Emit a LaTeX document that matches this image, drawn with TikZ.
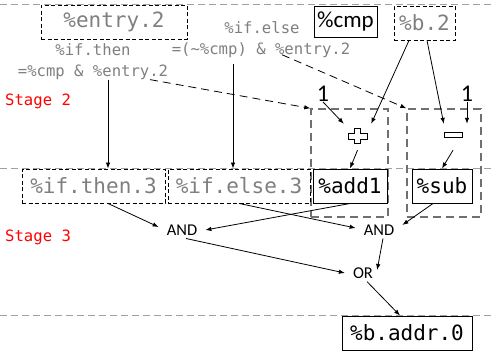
\documentclass[tikz,border=0pt]{standalone}
\usepackage{fontspec}
\setmainfont{Carlito}
\setmonofont{DejaVu Sans Mono}
\usetikzlibrary{arrows.meta}
\definecolor{txtgray}{HTML}{7F7F7F}
\definecolor{sepgray}{HTML}{A0A0A0}
\definecolor{grpgray}{HTML}{707070}

\begin{document}
\begin{tikzpicture}[x=1pt,y=-1pt,
  every node/.style={inner sep=0pt},
  sep/.style={sepgray, line width=1pt, dash pattern=on 7pt off 4pt},
  bigmono/.style={font=\fontsize{21}{24}\selectfont\ttfamily},
  smallmono/.style={font=\fontsize{15.6}{18}\selectfont\ttfamily, text=txtgray},
  solidbox/.style={draw, line width=1pt, bigmono, minimum height=34pt},
  dashbox/.style={draw, line width=0.9pt, dash pattern=on 4pt off 2.5pt, bigmono, text=txtgray, minimum height=34pt},
  grpbox/.style={draw=grpgray, line width=1.4pt, dash pattern=on 8pt off 5pt},
  gate/.style={font=\fontsize{16.5}{18}\selectfont, inner xsep=8pt, inner ysep=3pt},
  stagelbl/.style={font=\fontsize{15.6}{18}\selectfont\ttfamily, text=red, anchor=west},
  one/.style={font=\fontsize{24}{26}\selectfont},
  arr/.style={-{Latex[length=6pt,width=4.5pt]}, line width=0.8pt},
  darr/.style={arr, dash pattern=on 8pt off 5pt},
]
\useasboundingbox (0,0) rectangle (493,351);

% stage separators
\draw[sep] (0,4) -- (493,4);
\draw[sep] (0,168) -- (493,168);
\draw[sep] (0,315) -- (493,315);

% stage labels
\node[stagelbl] (st2) at (5,101) {Stage 2};
\node[stagelbl] (st3) at (5,237) {Stage 3};

% stage 2 inputs
\node[dashbox, minimum width=146pt] (entry) at (114,22) {\%entry.2};
\node[solidbox, minimum width=63pt, minimum height=31pt, font=\fontsize{23}{24}\selectfont] (cmp) at (345.5,21.5) {\%cmp};
\node[dashbox, minimum width=61pt] (b2) at (424.5,23) {\%b.2};

% condition labels
\node[smallmono] (thenname) at (93,50) {\%if.then};
\node[smallmono] (thenexpr) at (93,72) {=\%cmp \& \%entry.2};
\node[smallmono] (elsename) at (262,28) {\%if.else};
\node[smallmono] (elseexpr) at (261,50) {=(\textasciitilde\%cmp) \& \%entry.2};

% guarded arithmetic groups
\node[grpbox, minimum width=77pt, minimum height=108pt] (addgrp) at (349.5,163) {};
\node[grpbox, minimum width=74pt, minimum height=108pt] (subgrp) at (444,163) {};

\node[one] (oneA) at (323,94) {1};
\node[one] (oneB) at (467,94) {1};

\node[minimum width=27pt, minimum height=24pt] (plus) at (357.5,136) {};
\node[minimum width=26pt, minimum height=22pt] (minus) at (453,135) {};
\draw[line width=0.9pt, fill=white] (plus.center) ++(-3,-7.5) -- ++(6,0) -- ++(0,4.5) -- ++(6.5,0)
  -- ++(0,6) -- ++(-6.5,0) -- ++(0,4.5) -- ++(-6,0) -- ++(0,-4.5) -- ++(-6.5,0) -- ++(0,-6) -- ++(6.5,0) -- cycle;
\draw[line width=0.9pt, fill=white] (minus.center) ++(-9,-2.5) rectangle ++(18,5);

% stage 3 values
\node[dashbox, minimum width=143pt] (then3) at (93.5,186) {\%if.then.3};
\node[dashbox, minimum width=142pt] (else3) at (239,186) {\%if.else.3};
\node[solidbox, minimum width=74pt] (add1) at (350,186) {\%add1};
\node[solidbox, minimum width=60pt] (sub) at (442,186) {\%sub};

\node[gate] (and1) at (182,230) {AND};
\node[gate] (and2) at (379,230) {AND};
\node[gate] (or) at (363,273) {OR};

\node[solidbox, minimum width=130pt] (baddr) at (407,333) {\%b.addr.0};

% connectors
\draw[arr] ([xshift=15]thenexpr.south) -- ([xshift=15]thenexpr.south |- then3.north);
\draw[arr] ([xshift=-28]elseexpr.south) ++(0,6) -- ([xshift=-28]elseexpr.south |- else3.north);
\draw[darr] ([xshift=57]thenexpr.south) -- (addgrp.north west);
\draw[darr] ([xshift=21,yshift=3]elseexpr.south) -- (subgrp.north west);

\draw[arr] (oneA.south) -- (plus.north west);
\draw[arr] ([xshift=-15.5]b2.south) -- (plus.north east);
\draw[arr] ([xshift=2.5]b2.south) -- ([xshift=4]minus.north west);
\draw[arr] (oneB.south) -- ([xshift=0]oneB.south |- minus.north);
\draw[arr] ([yshift=-2]plus.south) -- (add1.north);
\draw[arr] ([yshift=-4]minus.south) -- (sub.north);

\draw[arr] ([xshift=14.5]then3.south) -- ([yshift=3]and1.west);
\draw[arr] (add1.south) -- (and1.east);
\draw[arr] (else3.south) -- ([yshift=2]and2.west);
\draw[arr] ([xshift=-9]sub.south) -- ([yshift=5]and2.east);
\draw[arr] ([xshift=4]and1.south) -- (or.west);
\draw[arr] ([xshift=4]and2.south) -- ([xshift=-4,yshift=3]or.east);
\draw[arr] ([xshift=4]or.south) -- ([xshift=-7]baddr.north);
\end{tikzpicture}
\end{document}
